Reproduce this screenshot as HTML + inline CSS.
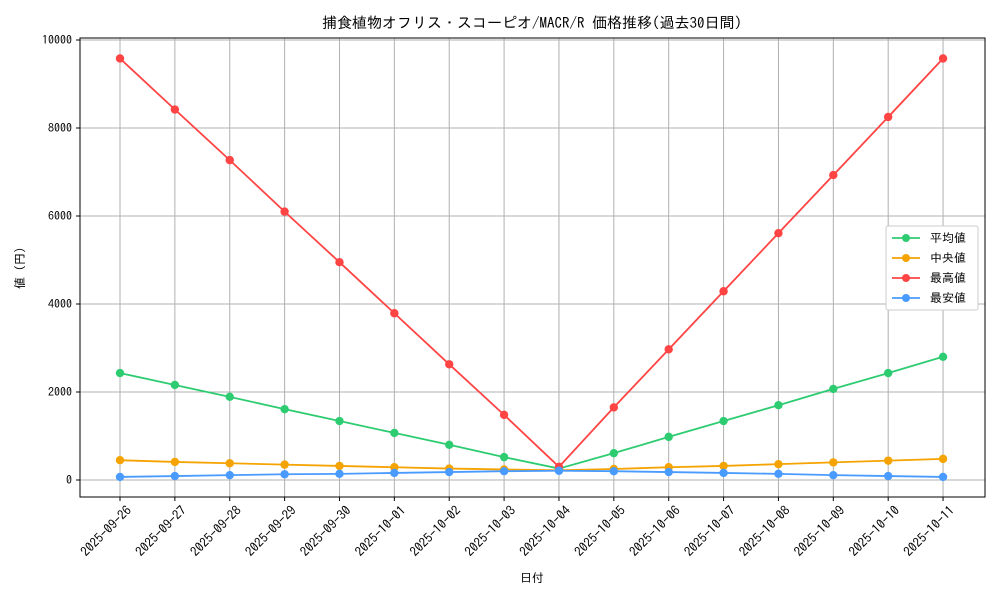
<!DOCTYPE html>
<html><head><meta charset="utf-8"><style>
html,body{margin:0;padding:0;background:#fff}
svg text{font-family:"IPAGothic","Liberation Sans","Noto Sans CJK JP",sans-serif;fill:#000}
</style></head><body>
<svg width="1000" height="600" viewBox="0 0 1000 600" xmlns="http://www.w3.org/2000/svg">
<rect width="1000" height="600" fill="#fff"/>
<text x="532" y="28" font-size="15" text-anchor="middle">捕食植物オフリス・スコーピオ/MACR/R 価格推移(過去30日間)</text>
<g id="grid" stroke="#b0b0b0" stroke-width="1"></g>
<rect x="80" y="38" width="905" height="459" fill="none" stroke="#000" stroke-width="1"/>
<g id="ticks"></g>
<g id="series"></g>
<text x="532" y="582" font-size="12" text-anchor="middle">日付</text>
<text transform="translate(24,268) rotate(-90)" font-size="12" text-anchor="middle">値 (円)</text>
<g>
<rect x="886" y="226" width="92" height="84" fill="#fff" stroke="#ccc" rx="2"/>
<line x1="892" y1="238" x2="920" y2="238" stroke="#2ecc71" stroke-width="1.8"/><circle cx="906" cy="238" r="4" fill="#2ecc71"/><text x="930" y="242" font-size="12">平均値</text>
<line x1="892" y1="258" x2="920" y2="258" stroke="#f5a300" stroke-width="1.8"/><circle cx="906" cy="258" r="4" fill="#f5a300"/><text x="930" y="262" font-size="12">中央値</text>
<line x1="892" y1="278" x2="920" y2="278" stroke="#ff4444" stroke-width="1.8"/><circle cx="906" cy="278" r="4" fill="#ff4444"/><text x="930" y="282" font-size="12">最高値</text>
<line x1="892" y1="298" x2="920" y2="298" stroke="#4a9bff" stroke-width="1.8"/><circle cx="906" cy="298" r="4" fill="#4a9bff"/><text x="930" y="302" font-size="12">最安値</text>
</g>
</svg>
<script>
const ns="http://www.w3.org/2000/svg";
function el(t,a,p,txt){const e=document.createElementNS(ns,t);for(const k in a)e.setAttribute(k,a[k]);if(txt!==undefined)e.textContent=txt;p.appendChild(e);return e;}
const X=i=>120+i*54.87, Y=v=>480-v*0.044;
const g=document.getElementById('grid'),tk=document.getElementById('ticks'),s=document.getElementById('series');
const dates=["2025-09-26","2025-09-27","2025-09-28","2025-09-29","2025-09-30","2025-10-01","2025-10-02","2025-10-03","2025-10-04","2025-10-05","2025-10-06","2025-10-07","2025-10-08","2025-10-09","2025-10-10","2025-10-11"];
dates.forEach((d,i)=>{const x=X(i);el('line',{x1:x,y1:38,x2:x,y2:497},g);el('line',{x1:x,y1:497,x2:x,y2:501,stroke:'#000'},tk);
el('text',{transform:`translate(${x+6},${505}) rotate(-45)`,'font-size':13,'text-anchor':'end','dominant-baseline':'hanging'},tk,d);});
[0,2000,4000,6000,8000,10000].forEach(v=>{const y=Y(v);el('line',{x1:80,y1:y,x2:985,y2:y},g);el('line',{x1:76,y1:y,x2:80,y2:y,stroke:'#000'},tk);
el('text',{x:72,y:y+4,'font-size':12,'text-anchor':'end'},tk,String(v));});
const data=[
["#2ecc71",[2430,2160,1890,1610,1340,1070,800,520,260,610,980,1340,1700,2070,2430,2800]],
["#f5a300",[450,410,380,350,320,290,260,240,220,250,290,320,360,400,440,480]],
["#ff4444",[9580,8420,7270,6100,4950,3790,2630,1480,300,1650,2970,4290,5610,6930,8250,9580]],
["#4a9bff",[70,90,110,130,140,160,180,200,210,200,180,160,140,110,90,70]]];
data.forEach(([c,v])=>{el('polyline',{points:v.map((y,i)=>X(i)+','+Y(y)).join(' '),fill:'none',stroke:c,'stroke-width':1.8},s);
v.forEach((y,i)=>el('circle',{cx:X(i),cy:Y(y),r:4.2,fill:c},s));});
</script>
</body></html>
